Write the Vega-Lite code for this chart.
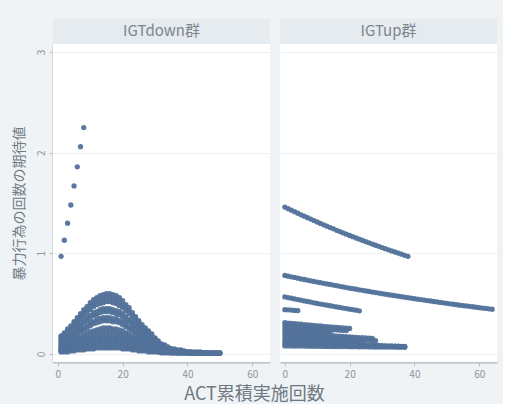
{
"$schema": "https://vega.github.io/schema/vega-lite/v6.json",
"background": "#eff3f6",
"padding": {"left": 12, "top": 18, "right": 6, "bottom": 0},
"title": {"text": "ACT累積実施回数", "orient": "bottom", "anchor": "middle", "fontSize": 18, "fontWeight": "normal", "color": "#6f787f", "font": "Noto Sans CJK JP", "offset": 7},
"datasets": {
"pts": [
{"g":"IGTdown群","x":1,"y":0.97},{"g":"IGTdown群","x":2,"y":1.13},{"g":"IGTdown群","x":3,"y":1.30},{"g":"IGTdown群","x":4,"y":1.48},{"g":"IGTdown群","x":5,"y":1.67},{"g":"IGTdown群","x":6,"y":1.86},{"g":"IGTdown群","x":7,"y":2.06},{"g":"IGTdown群","x":8,"y":2.25},
{"g":"IGTdown群","x":1,"y":0.18},{"g":"IGTdown群","x":2,"y":0.21},{"g":"IGTdown群","x":3,"y":0.25},{"g":"IGTdown群","x":4,"y":0.28},{"g":"IGTdown群","x":5,"y":0.32},{"g":"IGTdown群","x":6,"y":0.36},{"g":"IGTdown群","x":7,"y":0.40},{"g":"IGTdown群","x":8,"y":0.44},{"g":"IGTdown群","x":9,"y":0.47},{"g":"IGTdown群","x":10,"y":0.51},{"g":"IGTdown群","x":11,"y":0.54},{"g":"IGTdown群","x":12,"y":0.56},{"g":"IGTdown群","x":13,"y":0.58},{"g":"IGTdown群","x":14,"y":0.59},{"g":"IGTdown群","x":15,"y":0.60},{"g":"IGTdown群","x":16,"y":0.60},{"g":"IGTdown群","x":17,"y":0.59},{"g":"IGTdown群","x":18,"y":0.58},{"g":"IGTdown群","x":19,"y":0.56},{"g":"IGTdown群","x":20,"y":0.53},{"g":"IGTdown群","x":21,"y":0.49},{"g":"IGTdown群","x":22,"y":0.46},{"g":"IGTdown群","x":23,"y":0.41},{"g":"IGTdown群","x":24,"y":0.37},{"g":"IGTdown群","x":25,"y":0.33},{"g":"IGTdown群","x":26,"y":0.29},{"g":"IGTdown群","x":27,"y":0.26},{"g":"IGTdown群","x":28,"y":0.23},{"g":"IGTdown群","x":29,"y":0.20},
{"g":"IGTdown群","x":1,"y":0.17},{"g":"IGTdown群","x":2,"y":0.20},{"g":"IGTdown群","x":3,"y":0.23},{"g":"IGTdown群","x":4,"y":0.26},{"g":"IGTdown群","x":5,"y":0.30},{"g":"IGTdown群","x":6,"y":0.34},{"g":"IGTdown群","x":7,"y":0.38},{"g":"IGTdown群","x":8,"y":0.41},{"g":"IGTdown群","x":9,"y":0.44},{"g":"IGTdown群","x":10,"y":0.48},{"g":"IGTdown群","x":11,"y":0.50},{"g":"IGTdown群","x":12,"y":0.53},{"g":"IGTdown群","x":13,"y":0.54},{"g":"IGTdown群","x":14,"y":0.55},{"g":"IGTdown群","x":15,"y":0.56},{"g":"IGTdown群","x":16,"y":0.56},{"g":"IGTdown群","x":17,"y":0.55},{"g":"IGTdown群","x":18,"y":0.54},{"g":"IGTdown群","x":19,"y":0.52},{"g":"IGTdown群","x":20,"y":0.49},{"g":"IGTdown群","x":21,"y":0.46},{"g":"IGTdown群","x":22,"y":0.43},{"g":"IGTdown群","x":23,"y":0.39},{"g":"IGTdown群","x":24,"y":0.35},{"g":"IGTdown群","x":25,"y":0.31},{"g":"IGTdown群","x":26,"y":0.27},{"g":"IGTdown群","x":27,"y":0.24},{"g":"IGTdown群","x":28,"y":0.21},{"g":"IGTdown群","x":29,"y":0.18},{"g":"IGTdown群","x":30,"y":0.16},
{"g":"IGTdown群","x":1,"y":0.16},{"g":"IGTdown群","x":2,"y":0.18},{"g":"IGTdown群","x":3,"y":0.21},{"g":"IGTdown群","x":4,"y":0.24},{"g":"IGTdown群","x":5,"y":0.28},{"g":"IGTdown群","x":6,"y":0.31},{"g":"IGTdown群","x":7,"y":0.35},{"g":"IGTdown群","x":8,"y":0.38},{"g":"IGTdown群","x":9,"y":0.41},{"g":"IGTdown群","x":10,"y":0.44},{"g":"IGTdown群","x":11,"y":0.47},{"g":"IGTdown群","x":12,"y":0.49},{"g":"IGTdown群","x":13,"y":0.50},{"g":"IGTdown群","x":14,"y":0.51},{"g":"IGTdown群","x":15,"y":0.52},{"g":"IGTdown群","x":16,"y":0.52},{"g":"IGTdown群","x":17,"y":0.51},{"g":"IGTdown群","x":18,"y":0.50},{"g":"IGTdown群","x":19,"y":0.48},{"g":"IGTdown群","x":20,"y":0.46},{"g":"IGTdown群","x":21,"y":0.43},{"g":"IGTdown群","x":22,"y":0.40},{"g":"IGTdown群","x":23,"y":0.36},{"g":"IGTdown群","x":24,"y":0.32},{"g":"IGTdown群","x":25,"y":0.29},{"g":"IGTdown群","x":26,"y":0.25},{"g":"IGTdown群","x":27,"y":0.22},{"g":"IGTdown群","x":28,"y":0.20},{"g":"IGTdown群","x":29,"y":0.17},{"g":"IGTdown群","x":30,"y":0.15},{"g":"IGTdown群","x":31,"y":0.13},
{"g":"IGTdown群","x":1,"y":0.14},{"g":"IGTdown群","x":2,"y":0.16},{"g":"IGTdown群","x":3,"y":0.18},{"g":"IGTdown群","x":4,"y":0.21},{"g":"IGTdown群","x":5,"y":0.24},{"g":"IGTdown群","x":6,"y":0.27},{"g":"IGTdown群","x":7,"y":0.30},{"g":"IGTdown群","x":8,"y":0.33},{"g":"IGTdown群","x":9,"y":0.36},{"g":"IGTdown群","x":10,"y":0.38},{"g":"IGTdown群","x":11,"y":0.41},{"g":"IGTdown群","x":12,"y":0.42},{"g":"IGTdown群","x":13,"y":0.44},{"g":"IGTdown群","x":14,"y":0.45},{"g":"IGTdown群","x":15,"y":0.45},{"g":"IGTdown群","x":16,"y":0.45},{"g":"IGTdown群","x":17,"y":0.44},{"g":"IGTdown群","x":18,"y":0.43},{"g":"IGTdown群","x":19,"y":0.42},{"g":"IGTdown群","x":20,"y":0.40},{"g":"IGTdown群","x":21,"y":0.37},{"g":"IGTdown群","x":22,"y":0.34},{"g":"IGTdown群","x":23,"y":0.31},{"g":"IGTdown群","x":24,"y":0.28},{"g":"IGTdown群","x":25,"y":0.25},{"g":"IGTdown群","x":26,"y":0.22},{"g":"IGTdown群","x":27,"y":0.19},{"g":"IGTdown群","x":28,"y":0.17},{"g":"IGTdown群","x":29,"y":0.15},{"g":"IGTdown群","x":30,"y":0.13},{"g":"IGTdown群","x":31,"y":0.11},{"g":"IGTdown群","x":32,"y":0.10},{"g":"IGTdown群","x":33,"y":0.09},
{"g":"IGTdown群","x":1,"y":0.13},{"g":"IGTdown群","x":2,"y":0.15},{"g":"IGTdown群","x":3,"y":0.17},{"g":"IGTdown群","x":4,"y":0.20},{"g":"IGTdown群","x":5,"y":0.23},{"g":"IGTdown群","x":6,"y":0.25},{"g":"IGTdown群","x":7,"y":0.28},{"g":"IGTdown群","x":8,"y":0.31},{"g":"IGTdown群","x":9,"y":0.33},{"g":"IGTdown群","x":10,"y":0.36},{"g":"IGTdown群","x":11,"y":0.38},{"g":"IGTdown群","x":12,"y":0.39},{"g":"IGTdown群","x":13,"y":0.41},{"g":"IGTdown群","x":14,"y":0.42},{"g":"IGTdown群","x":15,"y":0.42},{"g":"IGTdown群","x":16,"y":0.42},{"g":"IGTdown群","x":17,"y":0.41},{"g":"IGTdown群","x":18,"y":0.40},{"g":"IGTdown群","x":19,"y":0.39},{"g":"IGTdown群","x":20,"y":0.37},{"g":"IGTdown群","x":21,"y":0.34},{"g":"IGTdown群","x":22,"y":0.32},{"g":"IGTdown群","x":23,"y":0.29},{"g":"IGTdown群","x":24,"y":0.26},{"g":"IGTdown群","x":25,"y":0.23},{"g":"IGTdown群","x":26,"y":0.21},{"g":"IGTdown群","x":27,"y":0.18},{"g":"IGTdown群","x":28,"y":0.16},{"g":"IGTdown群","x":29,"y":0.14},{"g":"IGTdown群","x":30,"y":0.12},{"g":"IGTdown群","x":31,"y":0.11},{"g":"IGTdown群","x":32,"y":0.09},{"g":"IGTdown群","x":33,"y":0.08},{"g":"IGTdown群","x":34,"y":0.07},
{"g":"IGTdown群","x":1,"y":0.11},{"g":"IGTdown群","x":2,"y":0.13},{"g":"IGTdown群","x":3,"y":0.15},{"g":"IGTdown群","x":4,"y":0.17},{"g":"IGTdown群","x":5,"y":0.19},{"g":"IGTdown群","x":6,"y":0.22},{"g":"IGTdown群","x":7,"y":0.24},{"g":"IGTdown群","x":8,"y":0.26},{"g":"IGTdown群","x":9,"y":0.28},{"g":"IGTdown群","x":10,"y":0.31},{"g":"IGTdown群","x":11,"y":0.32},{"g":"IGTdown群","x":12,"y":0.34},{"g":"IGTdown群","x":13,"y":0.35},{"g":"IGTdown群","x":14,"y":0.36},{"g":"IGTdown群","x":15,"y":0.36},{"g":"IGTdown群","x":16,"y":0.36},{"g":"IGTdown群","x":17,"y":0.35},{"g":"IGTdown群","x":18,"y":0.35},{"g":"IGTdown群","x":19,"y":0.33},{"g":"IGTdown群","x":20,"y":0.32},{"g":"IGTdown群","x":21,"y":0.30},{"g":"IGTdown群","x":22,"y":0.27},{"g":"IGTdown群","x":23,"y":0.25},{"g":"IGTdown群","x":24,"y":0.22},{"g":"IGTdown群","x":25,"y":0.20},{"g":"IGTdown群","x":26,"y":0.18},{"g":"IGTdown群","x":27,"y":0.15},{"g":"IGTdown群","x":28,"y":0.14},{"g":"IGTdown群","x":29,"y":0.12},{"g":"IGTdown群","x":30,"y":0.10},{"g":"IGTdown群","x":31,"y":0.09},{"g":"IGTdown群","x":32,"y":0.08},{"g":"IGTdown群","x":33,"y":0.07},{"g":"IGTdown群","x":34,"y":0.06},{"g":"IGTdown群","x":35,"y":0.05},{"g":"IGTdown群","x":36,"y":0.05},
{"g":"IGTdown群","x":1,"y":0.10},{"g":"IGTdown群","x":2,"y":0.12},{"g":"IGTdown群","x":3,"y":0.14},{"g":"IGTdown群","x":4,"y":0.16},{"g":"IGTdown群","x":5,"y":0.18},{"g":"IGTdown群","x":6,"y":0.20},{"g":"IGTdown群","x":7,"y":0.22},{"g":"IGTdown群","x":8,"y":0.24},{"g":"IGTdown群","x":9,"y":0.26},{"g":"IGTdown群","x":10,"y":0.28},{"g":"IGTdown群","x":11,"y":0.30},{"g":"IGTdown群","x":12,"y":0.31},{"g":"IGTdown群","x":13,"y":0.32},{"g":"IGTdown群","x":14,"y":0.33},{"g":"IGTdown群","x":15,"y":0.33},{"g":"IGTdown群","x":16,"y":0.33},{"g":"IGTdown群","x":17,"y":0.32},{"g":"IGTdown群","x":18,"y":0.32},{"g":"IGTdown群","x":19,"y":0.31},{"g":"IGTdown群","x":20,"y":0.29},{"g":"IGTdown群","x":21,"y":0.27},{"g":"IGTdown群","x":22,"y":0.25},{"g":"IGTdown群","x":23,"y":0.23},{"g":"IGTdown群","x":24,"y":0.20},{"g":"IGTdown群","x":25,"y":0.18},{"g":"IGTdown群","x":26,"y":0.16},{"g":"IGTdown群","x":27,"y":0.14},{"g":"IGTdown群","x":28,"y":0.13},{"g":"IGTdown群","x":29,"y":0.11},{"g":"IGTdown群","x":30,"y":0.10},{"g":"IGTdown群","x":31,"y":0.08},{"g":"IGTdown群","x":32,"y":0.07},{"g":"IGTdown群","x":33,"y":0.06},{"g":"IGTdown群","x":34,"y":0.06},{"g":"IGTdown群","x":35,"y":0.05},{"g":"IGTdown群","x":36,"y":0.04},{"g":"IGTdown群","x":37,"y":0.04},{"g":"IGTdown群","x":38,"y":0.04},
{"g":"IGTdown群","x":1,"y":0.08},{"g":"IGTdown群","x":2,"y":0.09},{"g":"IGTdown群","x":3,"y":0.11},{"g":"IGTdown群","x":4,"y":0.12},{"g":"IGTdown群","x":5,"y":0.14},{"g":"IGTdown群","x":6,"y":0.16},{"g":"IGTdown群","x":7,"y":0.17},{"g":"IGTdown群","x":8,"y":0.19},{"g":"IGTdown群","x":9,"y":0.21},{"g":"IGTdown群","x":10,"y":0.22},{"g":"IGTdown群","x":11,"y":0.23},{"g":"IGTdown群","x":12,"y":0.24},{"g":"IGTdown群","x":13,"y":0.25},{"g":"IGTdown群","x":14,"y":0.26},{"g":"IGTdown群","x":15,"y":0.26},{"g":"IGTdown群","x":16,"y":0.26},{"g":"IGTdown群","x":17,"y":0.25},{"g":"IGTdown群","x":18,"y":0.25},{"g":"IGTdown群","x":19,"y":0.24},{"g":"IGTdown群","x":20,"y":0.23},{"g":"IGTdown群","x":21,"y":0.21},{"g":"IGTdown群","x":22,"y":0.20},{"g":"IGTdown群","x":23,"y":0.18},{"g":"IGTdown群","x":24,"y":0.16},{"g":"IGTdown群","x":25,"y":0.14},{"g":"IGTdown群","x":26,"y":0.13},{"g":"IGTdown群","x":27,"y":0.11},{"g":"IGTdown群","x":28,"y":0.10},{"g":"IGTdown群","x":29,"y":0.09},{"g":"IGTdown群","x":30,"y":0.08},{"g":"IGTdown群","x":31,"y":0.07},{"g":"IGTdown群","x":32,"y":0.06},{"g":"IGTdown群","x":33,"y":0.05},{"g":"IGTdown群","x":34,"y":0.04},{"g":"IGTdown群","x":35,"y":0.04},{"g":"IGTdown群","x":36,"y":0.03},{"g":"IGTdown群","x":37,"y":0.03},{"g":"IGTdown群","x":38,"y":0.03},{"g":"IGTdown群","x":39,"y":0.03},{"g":"IGTdown群","x":40,"y":0.02},
{"g":"IGTdown群","x":1,"y":0.07},{"g":"IGTdown群","x":2,"y":0.08},{"g":"IGTdown群","x":3,"y":0.09},{"g":"IGTdown群","x":4,"y":0.10},{"g":"IGTdown群","x":5,"y":0.12},{"g":"IGTdown群","x":6,"y":0.13},{"g":"IGTdown群","x":7,"y":0.15},{"g":"IGTdown群","x":8,"y":0.16},{"g":"IGTdown群","x":9,"y":0.17},{"g":"IGTdown群","x":10,"y":0.19},{"g":"IGTdown群","x":11,"y":0.20},{"g":"IGTdown群","x":12,"y":0.21},{"g":"IGTdown群","x":13,"y":0.21},{"g":"IGTdown群","x":14,"y":0.22},{"g":"IGTdown群","x":15,"y":0.22},{"g":"IGTdown群","x":16,"y":0.22},{"g":"IGTdown群","x":17,"y":0.22},{"g":"IGTdown群","x":18,"y":0.21},{"g":"IGTdown群","x":19,"y":0.20},{"g":"IGTdown群","x":20,"y":0.19},{"g":"IGTdown群","x":21,"y":0.18},{"g":"IGTdown群","x":22,"y":0.17},{"g":"IGTdown群","x":23,"y":0.15},{"g":"IGTdown群","x":24,"y":0.14},{"g":"IGTdown群","x":25,"y":0.12},{"g":"IGTdown群","x":26,"y":0.11},{"g":"IGTdown群","x":27,"y":0.09},{"g":"IGTdown群","x":28,"y":0.08},{"g":"IGTdown群","x":29,"y":0.07},{"g":"IGTdown群","x":30,"y":0.06},{"g":"IGTdown群","x":31,"y":0.06},{"g":"IGTdown群","x":32,"y":0.05},{"g":"IGTdown群","x":33,"y":0.04},{"g":"IGTdown群","x":34,"y":0.04},{"g":"IGTdown群","x":35,"y":0.03},{"g":"IGTdown群","x":36,"y":0.03},{"g":"IGTdown群","x":37,"y":0.03},{"g":"IGTdown群","x":38,"y":0.02},{"g":"IGTdown群","x":39,"y":0.02},{"g":"IGTdown群","x":40,"y":0.02},{"g":"IGTdown群","x":41,"y":0.02},{"g":"IGTdown群","x":42,"y":0.02},{"g":"IGTdown群","x":43,"y":0.02},{"g":"IGTdown群","x":44,"y":0.02},
{"g":"IGTdown群","x":1,"y":0.05},{"g":"IGTdown群","x":2,"y":0.06},{"g":"IGTdown群","x":3,"y":0.07},{"g":"IGTdown群","x":4,"y":0.08},{"g":"IGTdown群","x":5,"y":0.10},{"g":"IGTdown群","x":6,"y":0.11},{"g":"IGTdown群","x":7,"y":0.12},{"g":"IGTdown群","x":8,"y":0.13},{"g":"IGTdown群","x":9,"y":0.14},{"g":"IGTdown群","x":10,"y":0.15},{"g":"IGTdown群","x":11,"y":0.16},{"g":"IGTdown群","x":12,"y":0.17},{"g":"IGTdown群","x":13,"y":0.17},{"g":"IGTdown群","x":14,"y":0.18},{"g":"IGTdown群","x":15,"y":0.18},{"g":"IGTdown群","x":16,"y":0.18},{"g":"IGTdown群","x":17,"y":0.18},{"g":"IGTdown群","x":18,"y":0.17},{"g":"IGTdown群","x":19,"y":0.17},{"g":"IGTdown群","x":20,"y":0.16},{"g":"IGTdown群","x":21,"y":0.15},{"g":"IGTdown群","x":22,"y":0.14},{"g":"IGTdown群","x":23,"y":0.12},{"g":"IGTdown群","x":24,"y":0.11},{"g":"IGTdown群","x":25,"y":0.10},{"g":"IGTdown群","x":26,"y":0.09},{"g":"IGTdown群","x":27,"y":0.08},{"g":"IGTdown群","x":28,"y":0.07},{"g":"IGTdown群","x":29,"y":0.06},{"g":"IGTdown群","x":30,"y":0.05},{"g":"IGTdown群","x":31,"y":0.05},{"g":"IGTdown群","x":32,"y":0.04},{"g":"IGTdown群","x":33,"y":0.03},{"g":"IGTdown群","x":34,"y":0.03},{"g":"IGTdown群","x":35,"y":0.03},{"g":"IGTdown群","x":36,"y":0.02},{"g":"IGTdown群","x":37,"y":0.02},{"g":"IGTdown群","x":38,"y":0.02},{"g":"IGTdown群","x":39,"y":0.02},{"g":"IGTdown群","x":40,"y":0.02},{"g":"IGTdown群","x":41,"y":0.02},{"g":"IGTdown群","x":42,"y":0.01},{"g":"IGTdown群","x":43,"y":0.01},{"g":"IGTdown群","x":44,"y":0.01},{"g":"IGTdown群","x":45,"y":0.01},{"g":"IGTdown群","x":46,"y":0.01},{"g":"IGTdown群","x":47,"y":0.01},
{"g":"IGTdown群","x":1,"y":0.05},{"g":"IGTdown群","x":2,"y":0.05},{"g":"IGTdown群","x":3,"y":0.06},{"g":"IGTdown群","x":4,"y":0.07},{"g":"IGTdown群","x":5,"y":0.08},{"g":"IGTdown群","x":6,"y":0.09},{"g":"IGTdown群","x":7,"y":0.10},{"g":"IGTdown群","x":8,"y":0.11},{"g":"IGTdown群","x":9,"y":0.12},{"g":"IGTdown群","x":10,"y":0.13},{"g":"IGTdown群","x":11,"y":0.14},{"g":"IGTdown群","x":12,"y":0.14},{"g":"IGTdown群","x":13,"y":0.15},{"g":"IGTdown群","x":14,"y":0.15},{"g":"IGTdown群","x":15,"y":0.15},{"g":"IGTdown群","x":16,"y":0.15},{"g":"IGTdown群","x":17,"y":0.15},{"g":"IGTdown群","x":18,"y":0.14},{"g":"IGTdown群","x":19,"y":0.14},{"g":"IGTdown群","x":20,"y":0.13},{"g":"IGTdown群","x":21,"y":0.12},{"g":"IGTdown群","x":22,"y":0.11},{"g":"IGTdown群","x":23,"y":0.10},{"g":"IGTdown群","x":24,"y":0.09},{"g":"IGTdown群","x":25,"y":0.08},{"g":"IGTdown群","x":26,"y":0.07},{"g":"IGTdown群","x":27,"y":0.06},{"g":"IGTdown群","x":28,"y":0.06},{"g":"IGTdown群","x":29,"y":0.05},{"g":"IGTdown群","x":30,"y":0.04},{"g":"IGTdown群","x":31,"y":0.04},{"g":"IGTdown群","x":32,"y":0.03},{"g":"IGTdown群","x":33,"y":0.03},{"g":"IGTdown群","x":34,"y":0.03},{"g":"IGTdown群","x":35,"y":0.02},{"g":"IGTdown群","x":36,"y":0.02},{"g":"IGTdown群","x":37,"y":0.02},{"g":"IGTdown群","x":38,"y":0.02},{"g":"IGTdown群","x":39,"y":0.02},{"g":"IGTdown群","x":40,"y":0.01},{"g":"IGTdown群","x":41,"y":0.01},{"g":"IGTdown群","x":42,"y":0.01},{"g":"IGTdown群","x":43,"y":0.01},{"g":"IGTdown群","x":44,"y":0.01},{"g":"IGTdown群","x":45,"y":0.01},{"g":"IGTdown群","x":46,"y":0.01},{"g":"IGTdown群","x":47,"y":0.01},{"g":"IGTdown群","x":48,"y":0.01},{"g":"IGTdown群","x":49,"y":0.01},{"g":"IGTdown群","x":50,"y":0.01},
{"g":"IGTdown群","x":1,"y":0.04},{"g":"IGTdown群","x":2,"y":0.04},{"g":"IGTdown群","x":3,"y":0.05},{"g":"IGTdown群","x":4,"y":0.06},{"g":"IGTdown群","x":5,"y":0.06},{"g":"IGTdown群","x":6,"y":0.07},{"g":"IGTdown群","x":7,"y":0.08},{"g":"IGTdown群","x":8,"y":0.09},{"g":"IGTdown群","x":9,"y":0.09},{"g":"IGTdown群","x":10,"y":0.10},{"g":"IGTdown群","x":11,"y":0.11},{"g":"IGTdown群","x":12,"y":0.11},{"g":"IGTdown群","x":13,"y":0.12},{"g":"IGTdown群","x":14,"y":0.12},{"g":"IGTdown群","x":15,"y":0.12},{"g":"IGTdown群","x":16,"y":0.12},{"g":"IGTdown群","x":17,"y":0.12},{"g":"IGTdown群","x":18,"y":0.12},{"g":"IGTdown群","x":19,"y":0.11},{"g":"IGTdown群","x":20,"y":0.11},{"g":"IGTdown群","x":21,"y":0.10},{"g":"IGTdown群","x":22,"y":0.09},{"g":"IGTdown群","x":23,"y":0.08},{"g":"IGTdown群","x":24,"y":0.07},{"g":"IGTdown群","x":25,"y":0.07},{"g":"IGTdown群","x":26,"y":0.06},{"g":"IGTdown群","x":27,"y":0.05},{"g":"IGTdown群","x":28,"y":0.05},{"g":"IGTdown群","x":29,"y":0.04},{"g":"IGTdown群","x":30,"y":0.03},{"g":"IGTdown群","x":31,"y":0.03},{"g":"IGTdown群","x":32,"y":0.03},{"g":"IGTdown群","x":33,"y":0.02},{"g":"IGTdown群","x":34,"y":0.02},{"g":"IGTdown群","x":35,"y":0.02},{"g":"IGTdown群","x":36,"y":0.02},{"g":"IGTdown群","x":37,"y":0.01},{"g":"IGTdown群","x":38,"y":0.01},{"g":"IGTdown群","x":39,"y":0.01},{"g":"IGTdown群","x":40,"y":0.01},{"g":"IGTdown群","x":41,"y":0.01},{"g":"IGTdown群","x":42,"y":0.01},{"g":"IGTdown群","x":43,"y":0.01},{"g":"IGTdown群","x":44,"y":0.01},{"g":"IGTdown群","x":45,"y":0.01},{"g":"IGTdown群","x":46,"y":0.01},{"g":"IGTdown群","x":47,"y":0.01},{"g":"IGTdown群","x":48,"y":0.01},{"g":"IGTdown群","x":49,"y":0.01},{"g":"IGTdown群","x":50,"y":0.01},
{"g":"IGTdown群","x":1,"y":0.03},{"g":"IGTdown群","x":2,"y":0.03},{"g":"IGTdown群","x":3,"y":0.04},{"g":"IGTdown群","x":4,"y":0.04},{"g":"IGTdown群","x":5,"y":0.05},{"g":"IGTdown群","x":6,"y":0.05},{"g":"IGTdown群","x":7,"y":0.06},{"g":"IGTdown群","x":8,"y":0.07},{"g":"IGTdown群","x":9,"y":0.07},{"g":"IGTdown群","x":10,"y":0.08},{"g":"IGTdown群","x":11,"y":0.08},{"g":"IGTdown群","x":12,"y":0.08},{"g":"IGTdown群","x":13,"y":0.09},{"g":"IGTdown群","x":14,"y":0.09},{"g":"IGTdown群","x":15,"y":0.09},{"g":"IGTdown群","x":16,"y":0.09},{"g":"IGTdown群","x":17,"y":0.09},{"g":"IGTdown群","x":18,"y":0.09},{"g":"IGTdown群","x":19,"y":0.08},{"g":"IGTdown群","x":20,"y":0.08},{"g":"IGTdown群","x":21,"y":0.07},{"g":"IGTdown群","x":22,"y":0.07},{"g":"IGTdown群","x":23,"y":0.06},{"g":"IGTdown群","x":24,"y":0.06},{"g":"IGTdown群","x":25,"y":0.05},{"g":"IGTdown群","x":26,"y":0.04},{"g":"IGTdown群","x":27,"y":0.04},{"g":"IGTdown群","x":28,"y":0.03},{"g":"IGTdown群","x":29,"y":0.03},{"g":"IGTdown群","x":30,"y":0.03},{"g":"IGTdown群","x":31,"y":0.02},{"g":"IGTdown群","x":32,"y":0.02},{"g":"IGTdown群","x":33,"y":0.02},{"g":"IGTdown群","x":34,"y":0.02},{"g":"IGTdown群","x":35,"y":0.01},{"g":"IGTdown群","x":36,"y":0.01},{"g":"IGTdown群","x":37,"y":0.01},{"g":"IGTdown群","x":38,"y":0.01},{"g":"IGTdown群","x":39,"y":0.01},{"g":"IGTdown群","x":40,"y":0.01},{"g":"IGTdown群","x":41,"y":0.01},{"g":"IGTdown群","x":42,"y":0.01},{"g":"IGTdown群","x":43,"y":0.01},{"g":"IGTdown群","x":44,"y":0.01},{"g":"IGTdown群","x":45,"y":0.01},{"g":"IGTdown群","x":46,"y":0.01},{"g":"IGTdown群","x":47,"y":0.01},{"g":"IGTdown群","x":48,"y":0.01},{"g":"IGTdown群","x":49,"y":0.01},{"g":"IGTdown群","x":50,"y":0.01},
{"g":"IGTdown群","x":1,"y":0.02},{"g":"IGTdown群","x":2,"y":0.02},{"g":"IGTdown群","x":3,"y":0.02},{"g":"IGTdown群","x":4,"y":0.03},{"g":"IGTdown群","x":5,"y":0.03},{"g":"IGTdown群","x":6,"y":0.04},{"g":"IGTdown群","x":7,"y":0.04},{"g":"IGTdown群","x":8,"y":0.04},{"g":"IGTdown群","x":9,"y":0.05},{"g":"IGTdown群","x":10,"y":0.05},{"g":"IGTdown群","x":11,"y":0.05},{"g":"IGTdown群","x":12,"y":0.06},{"g":"IGTdown群","x":13,"y":0.06},{"g":"IGTdown群","x":14,"y":0.06},{"g":"IGTdown群","x":15,"y":0.06},{"g":"IGTdown群","x":16,"y":0.06},{"g":"IGTdown群","x":17,"y":0.06},{"g":"IGTdown群","x":18,"y":0.06},{"g":"IGTdown群","x":19,"y":0.06},{"g":"IGTdown群","x":20,"y":0.05},{"g":"IGTdown群","x":21,"y":0.05},{"g":"IGTdown群","x":22,"y":0.05},{"g":"IGTdown群","x":23,"y":0.04},{"g":"IGTdown群","x":24,"y":0.04},{"g":"IGTdown群","x":25,"y":0.03},{"g":"IGTdown群","x":26,"y":0.03},{"g":"IGTdown群","x":27,"y":0.03},{"g":"IGTdown群","x":28,"y":0.02},{"g":"IGTdown群","x":29,"y":0.02},{"g":"IGTdown群","x":30,"y":0.02},{"g":"IGTdown群","x":31,"y":0.02},{"g":"IGTdown群","x":32,"y":0.01},{"g":"IGTdown群","x":33,"y":0.01},{"g":"IGTdown群","x":34,"y":0.01},{"g":"IGTdown群","x":35,"y":0.01},{"g":"IGTdown群","x":36,"y":0.01},{"g":"IGTdown群","x":37,"y":0.01},{"g":"IGTdown群","x":38,"y":0.01},{"g":"IGTdown群","x":39,"y":0.01},{"g":"IGTdown群","x":40,"y":0.01},{"g":"IGTdown群","x":41,"y":0.005},{"g":"IGTdown群","x":42,"y":0.005},{"g":"IGTdown群","x":43,"y":0.005},{"g":"IGTdown群","x":44,"y":0.005},{"g":"IGTdown群","x":45,"y":0.005},{"g":"IGTdown群","x":46,"y":0.005},{"g":"IGTdown群","x":47,"y":0.005},{"g":"IGTdown群","x":48,"y":0.005},{"g":"IGTdown群","x":49,"y":0.005},{"g":"IGTdown群","x":50,"y":0.005},
{"g":"IGTup群","x":0,"y":1.460},{"g":"IGTup群","x":1,"y":1.444},{"g":"IGTup群","x":2,"y":1.429},{"g":"IGTup群","x":3,"y":1.414},{"g":"IGTup群","x":4,"y":1.398},{"g":"IGTup群","x":5,"y":1.383},{"g":"IGTup群","x":6,"y":1.369},{"g":"IGTup群","x":7,"y":1.354},{"g":"IGTup群","x":8,"y":1.340},{"g":"IGTup群","x":9,"y":1.325},{"g":"IGTup群","x":10,"y":1.311},{"g":"IGTup群","x":11,"y":1.297},{"g":"IGTup群","x":12,"y":1.283},{"g":"IGTup群","x":13,"y":1.270},{"g":"IGTup群","x":14,"y":1.256},{"g":"IGTup群","x":15,"y":1.243},{"g":"IGTup群","x":16,"y":1.229},{"g":"IGTup群","x":17,"y":1.216},{"g":"IGTup群","x":18,"y":1.203},{"g":"IGTup群","x":19,"y":1.190},{"g":"IGTup群","x":20,"y":1.177},{"g":"IGTup群","x":21,"y":1.165},{"g":"IGTup群","x":22,"y":1.152},{"g":"IGTup群","x":23,"y":1.140},{"g":"IGTup群","x":24,"y":1.128},{"g":"IGTup群","x":25,"y":1.116},{"g":"IGTup群","x":26,"y":1.104},{"g":"IGTup群","x":27,"y":1.092},{"g":"IGTup群","x":28,"y":1.080},{"g":"IGTup群","x":29,"y":1.069},{"g":"IGTup群","x":30,"y":1.057},{"g":"IGTup群","x":31,"y":1.046},{"g":"IGTup群","x":32,"y":1.035},{"g":"IGTup群","x":33,"y":1.024},{"g":"IGTup群","x":34,"y":1.013},{"g":"IGTup群","x":35,"y":1.002},{"g":"IGTup群","x":36,"y":0.991},{"g":"IGTup群","x":37,"y":0.980},{"g":"IGTup群","x":38,"y":0.970},
{"g":"IGTup群","x":0,"y":0.780},{"g":"IGTup群","x":1,"y":0.773},{"g":"IGTup群","x":2,"y":0.766},{"g":"IGTup群","x":3,"y":0.760},{"g":"IGTup群","x":4,"y":0.753},{"g":"IGTup群","x":5,"y":0.746},{"g":"IGTup群","x":6,"y":0.740},{"g":"IGTup群","x":7,"y":0.733},{"g":"IGTup群","x":8,"y":0.727},{"g":"IGTup群","x":9,"y":0.721},{"g":"IGTup群","x":10,"y":0.714},{"g":"IGTup群","x":11,"y":0.708},{"g":"IGTup群","x":12,"y":0.702},{"g":"IGTup群","x":13,"y":0.696},{"g":"IGTup群","x":14,"y":0.690},{"g":"IGTup群","x":15,"y":0.684},{"g":"IGTup群","x":16,"y":0.678},{"g":"IGTup群","x":17,"y":0.672},{"g":"IGTup群","x":18,"y":0.666},{"g":"IGTup群","x":19,"y":0.660},{"g":"IGTup群","x":20,"y":0.654},{"g":"IGTup群","x":21,"y":0.649},{"g":"IGTup群","x":22,"y":0.643},{"g":"IGTup群","x":23,"y":0.637},{"g":"IGTup群","x":24,"y":0.632},{"g":"IGTup群","x":25,"y":0.626},{"g":"IGTup群","x":26,"y":0.621},{"g":"IGTup群","x":27,"y":0.615},{"g":"IGTup群","x":28,"y":0.610},{"g":"IGTup群","x":29,"y":0.605},{"g":"IGTup群","x":30,"y":0.599},{"g":"IGTup群","x":31,"y":0.594},{"g":"IGTup群","x":32,"y":0.589},{"g":"IGTup群","x":33,"y":0.584},{"g":"IGTup群","x":34,"y":0.579},{"g":"IGTup群","x":35,"y":0.574},{"g":"IGTup群","x":36,"y":0.569},{"g":"IGTup群","x":37,"y":0.564},{"g":"IGTup群","x":38,"y":0.559},{"g":"IGTup群","x":39,"y":0.554},{"g":"IGTup群","x":40,"y":0.549},{"g":"IGTup群","x":41,"y":0.544},{"g":"IGTup群","x":42,"y":0.540},{"g":"IGTup群","x":43,"y":0.535},{"g":"IGTup群","x":44,"y":0.530},{"g":"IGTup群","x":45,"y":0.526},{"g":"IGTup群","x":46,"y":0.521},{"g":"IGTup群","x":47,"y":0.517},{"g":"IGTup群","x":48,"y":0.512},{"g":"IGTup群","x":49,"y":0.508},{"g":"IGTup群","x":50,"y":0.503},{"g":"IGTup群","x":51,"y":0.498},{"g":"IGTup群","x":52,"y":0.494},{"g":"IGTup群","x":53,"y":0.490},{"g":"IGTup群","x":54,"y":0.485},{"g":"IGTup群","x":55,"y":0.481},{"g":"IGTup群","x":56,"y":0.477},{"g":"IGTup群","x":57,"y":0.473},{"g":"IGTup群","x":58,"y":0.469},{"g":"IGTup群","x":59,"y":0.464},{"g":"IGTup群","x":60,"y":0.460},{"g":"IGTup群","x":61,"y":0.456},{"g":"IGTup群","x":62,"y":0.452},{"g":"IGTup群","x":63,"y":0.448},{"g":"IGTup群","x":64,"y":0.444},
{"g":"IGTup群","x":0,"y":0.567},{"g":"IGTup群","x":1,"y":0.560},{"g":"IGTup群","x":2,"y":0.554},{"g":"IGTup群","x":3,"y":0.547},{"g":"IGTup群","x":4,"y":0.540},{"g":"IGTup群","x":5,"y":0.534},{"g":"IGTup群","x":6,"y":0.527},{"g":"IGTup群","x":7,"y":0.521},{"g":"IGTup群","x":8,"y":0.515},{"g":"IGTup群","x":9,"y":0.508},{"g":"IGTup群","x":10,"y":0.502},{"g":"IGTup群","x":11,"y":0.496},{"g":"IGTup群","x":12,"y":0.491},{"g":"IGTup群","x":13,"y":0.485},{"g":"IGTup群","x":14,"y":0.479},{"g":"IGTup群","x":15,"y":0.473},{"g":"IGTup群","x":16,"y":0.467},{"g":"IGTup群","x":17,"y":0.462},{"g":"IGTup群","x":18,"y":0.456},{"g":"IGTup群","x":19,"y":0.451},{"g":"IGTup群","x":20,"y":0.445},{"g":"IGTup群","x":21,"y":0.440},{"g":"IGTup群","x":22,"y":0.435},{"g":"IGTup群","x":23,"y":0.429},
{"g":"IGTup群","x":0,"y":0.440},{"g":"IGTup群","x":1,"y":0.438},{"g":"IGTup群","x":2,"y":0.436},{"g":"IGTup群","x":3,"y":0.433},{"g":"IGTup群","x":4,"y":0.431},
{"g":"IGTup群","x":0,"y":0.310},{"g":"IGTup群","x":1,"y":0.307},{"g":"IGTup群","x":2,"y":0.304},{"g":"IGTup群","x":3,"y":0.301},{"g":"IGTup群","x":4,"y":0.298},{"g":"IGTup群","x":5,"y":0.295},{"g":"IGTup群","x":6,"y":0.292},{"g":"IGTup群","x":7,"y":0.289},{"g":"IGTup群","x":8,"y":0.286},{"g":"IGTup群","x":9,"y":0.283},{"g":"IGTup群","x":10,"y":0.280},{"g":"IGTup群","x":11,"y":0.278},{"g":"IGTup群","x":12,"y":0.275},{"g":"IGTup群","x":13,"y":0.272},{"g":"IGTup群","x":14,"y":0.269},{"g":"IGTup群","x":15,"y":0.267},{"g":"IGTup群","x":16,"y":0.264},{"g":"IGTup群","x":17,"y":0.261},{"g":"IGTup群","x":18,"y":0.259},{"g":"IGTup群","x":19,"y":0.256},{"g":"IGTup群","x":20,"y":0.254},
{"g":"IGTup群","x":0,"y":0.280},{"g":"IGTup群","x":1,"y":0.277},{"g":"IGTup群","x":2,"y":0.274},{"g":"IGTup群","x":3,"y":0.272},{"g":"IGTup群","x":4,"y":0.269},{"g":"IGTup群","x":5,"y":0.266},{"g":"IGTup群","x":6,"y":0.264},{"g":"IGTup群","x":7,"y":0.261},{"g":"IGTup群","x":8,"y":0.258},{"g":"IGTup群","x":9,"y":0.256},{"g":"IGTup群","x":10,"y":0.253},{"g":"IGTup群","x":11,"y":0.251},{"g":"IGTup群","x":12,"y":0.248},{"g":"IGTup群","x":13,"y":0.246},{"g":"IGTup群","x":14,"y":0.243},{"g":"IGTup群","x":15,"y":0.241},{"g":"IGTup群","x":16,"y":0.239},{"g":"IGTup群","x":17,"y":0.236},{"g":"IGTup群","x":18,"y":0.234},{"g":"IGTup群","x":19,"y":0.232},
{"g":"IGTup群","x":0,"y":0.250},{"g":"IGTup群","x":1,"y":0.248},{"g":"IGTup群","x":2,"y":0.245},{"g":"IGTup群","x":3,"y":0.243},{"g":"IGTup群","x":4,"y":0.240},{"g":"IGTup群","x":5,"y":0.238},{"g":"IGTup群","x":6,"y":0.235},{"g":"IGTup群","x":7,"y":0.233},{"g":"IGTup群","x":8,"y":0.231},{"g":"IGTup群","x":9,"y":0.228},{"g":"IGTup群","x":10,"y":0.226},{"g":"IGTup群","x":11,"y":0.224},{"g":"IGTup群","x":12,"y":0.222},{"g":"IGTup群","x":13,"y":0.219},{"g":"IGTup群","x":14,"y":0.217},
{"g":"IGTup群","x":0,"y":0.220},{"g":"IGTup群","x":1,"y":0.217},{"g":"IGTup群","x":2,"y":0.214},{"g":"IGTup群","x":3,"y":0.212},{"g":"IGTup群","x":4,"y":0.209},{"g":"IGTup群","x":5,"y":0.206},{"g":"IGTup群","x":6,"y":0.203},{"g":"IGTup群","x":7,"y":0.201},{"g":"IGTup群","x":8,"y":0.198},{"g":"IGTup群","x":9,"y":0.196},{"g":"IGTup群","x":10,"y":0.193},{"g":"IGTup群","x":11,"y":0.191},{"g":"IGTup群","x":12,"y":0.188},{"g":"IGTup群","x":13,"y":0.185},{"g":"IGTup群","x":14,"y":0.183},{"g":"IGTup群","x":15,"y":0.181},{"g":"IGTup群","x":16,"y":0.178},{"g":"IGTup群","x":17,"y":0.176},{"g":"IGTup群","x":18,"y":0.174},{"g":"IGTup群","x":19,"y":0.172},{"g":"IGTup群","x":20,"y":0.169},{"g":"IGTup群","x":21,"y":0.167},{"g":"IGTup群","x":22,"y":0.165},{"g":"IGTup群","x":23,"y":0.163},{"g":"IGTup群","x":24,"y":0.161},{"g":"IGTup群","x":25,"y":0.159},{"g":"IGTup群","x":26,"y":0.156},{"g":"IGTup群","x":27,"y":0.154},
{"g":"IGTup群","x":0,"y":0.190},{"g":"IGTup群","x":1,"y":0.188},{"g":"IGTup群","x":2,"y":0.185},{"g":"IGTup群","x":3,"y":0.183},{"g":"IGTup群","x":4,"y":0.180},{"g":"IGTup群","x":5,"y":0.178},{"g":"IGTup群","x":6,"y":0.176},{"g":"IGTup群","x":7,"y":0.173},{"g":"IGTup群","x":8,"y":0.171},{"g":"IGTup群","x":9,"y":0.169},{"g":"IGTup群","x":10,"y":0.167},{"g":"IGTup群","x":11,"y":0.165},{"g":"IGTup群","x":12,"y":0.162},{"g":"IGTup群","x":13,"y":0.160},{"g":"IGTup群","x":14,"y":0.158},{"g":"IGTup群","x":15,"y":0.156},{"g":"IGTup群","x":16,"y":0.154},{"g":"IGTup群","x":17,"y":0.152},{"g":"IGTup群","x":18,"y":0.150},{"g":"IGTup群","x":19,"y":0.148},{"g":"IGTup群","x":20,"y":0.146},{"g":"IGTup群","x":21,"y":0.144},{"g":"IGTup群","x":22,"y":0.143},{"g":"IGTup群","x":23,"y":0.141},{"g":"IGTup群","x":24,"y":0.139},{"g":"IGTup群","x":25,"y":0.137},{"g":"IGTup群","x":26,"y":0.135},{"g":"IGTup群","x":27,"y":0.133},{"g":"IGTup群","x":28,"y":0.132},
{"g":"IGTup群","x":0,"y":0.160},{"g":"IGTup群","x":1,"y":0.158},{"g":"IGTup群","x":2,"y":0.156},{"g":"IGTup群","x":3,"y":0.154},{"g":"IGTup群","x":4,"y":0.152},{"g":"IGTup群","x":5,"y":0.150},{"g":"IGTup群","x":6,"y":0.148},{"g":"IGTup群","x":7,"y":0.146},{"g":"IGTup群","x":8,"y":0.144},{"g":"IGTup群","x":9,"y":0.142},{"g":"IGTup群","x":10,"y":0.140},{"g":"IGTup群","x":11,"y":0.139},{"g":"IGTup群","x":12,"y":0.137},{"g":"IGTup群","x":13,"y":0.135},{"g":"IGTup群","x":14,"y":0.133},{"g":"IGTup群","x":15,"y":0.132},{"g":"IGTup群","x":16,"y":0.130},{"g":"IGTup群","x":17,"y":0.128},{"g":"IGTup群","x":18,"y":0.126},{"g":"IGTup群","x":19,"y":0.125},{"g":"IGTup群","x":20,"y":0.123},{"g":"IGTup群","x":21,"y":0.122},{"g":"IGTup群","x":22,"y":0.120},{"g":"IGTup群","x":23,"y":0.118},{"g":"IGTup群","x":24,"y":0.117},
{"g":"IGTup群","x":0,"y":0.130},{"g":"IGTup群","x":1,"y":0.128},{"g":"IGTup群","x":2,"y":0.126},{"g":"IGTup群","x":3,"y":0.124},{"g":"IGTup群","x":4,"y":0.122},{"g":"IGTup群","x":5,"y":0.121},{"g":"IGTup群","x":6,"y":0.119},{"g":"IGTup群","x":7,"y":0.117},{"g":"IGTup群","x":8,"y":0.115},{"g":"IGTup群","x":9,"y":0.113},{"g":"IGTup群","x":10,"y":0.112},{"g":"IGTup群","x":11,"y":0.110},{"g":"IGTup群","x":12,"y":0.108},{"g":"IGTup群","x":13,"y":0.107},{"g":"IGTup群","x":14,"y":0.105},{"g":"IGTup群","x":15,"y":0.104},{"g":"IGTup群","x":16,"y":0.102},{"g":"IGTup群","x":17,"y":0.100},{"g":"IGTup群","x":18,"y":0.099},{"g":"IGTup群","x":19,"y":0.098},{"g":"IGTup群","x":20,"y":0.096},{"g":"IGTup群","x":21,"y":0.095},{"g":"IGTup群","x":22,"y":0.093},{"g":"IGTup群","x":23,"y":0.092},{"g":"IGTup群","x":24,"y":0.090},{"g":"IGTup群","x":25,"y":0.089},{"g":"IGTup群","x":26,"y":0.088},{"g":"IGTup群","x":27,"y":0.086},{"g":"IGTup群","x":28,"y":0.085},{"g":"IGTup群","x":29,"y":0.084},{"g":"IGTup群","x":30,"y":0.083},{"g":"IGTup群","x":31,"y":0.081},{"g":"IGTup群","x":32,"y":0.080},{"g":"IGTup群","x":33,"y":0.079},{"g":"IGTup群","x":34,"y":0.078},{"g":"IGTup群","x":35,"y":0.077},{"g":"IGTup群","x":36,"y":0.075},{"g":"IGTup群","x":37,"y":0.074},
{"g":"IGTup群","x":0,"y":0.105},{"g":"IGTup群","x":1,"y":0.104},{"g":"IGTup群","x":2,"y":0.103},{"g":"IGTup群","x":3,"y":0.102},{"g":"IGTup群","x":4,"y":0.101},{"g":"IGTup群","x":5,"y":0.100},{"g":"IGTup群","x":6,"y":0.099},{"g":"IGTup群","x":7,"y":0.098},{"g":"IGTup群","x":8,"y":0.097},{"g":"IGTup群","x":9,"y":0.096},{"g":"IGTup群","x":10,"y":0.095},{"g":"IGTup群","x":11,"y":0.094},{"g":"IGTup群","x":12,"y":0.093},{"g":"IGTup群","x":13,"y":0.092},{"g":"IGTup群","x":14,"y":0.091},{"g":"IGTup群","x":15,"y":0.090},{"g":"IGTup群","x":16,"y":0.089},{"g":"IGTup群","x":17,"y":0.089},{"g":"IGTup群","x":18,"y":0.088},{"g":"IGTup群","x":19,"y":0.087},{"g":"IGTup群","x":20,"y":0.086},{"g":"IGTup群","x":21,"y":0.085},{"g":"IGTup群","x":22,"y":0.084},{"g":"IGTup群","x":23,"y":0.083},{"g":"IGTup群","x":24,"y":0.083},{"g":"IGTup群","x":25,"y":0.082},{"g":"IGTup群","x":26,"y":0.081},{"g":"IGTup群","x":27,"y":0.080},{"g":"IGTup群","x":28,"y":0.079},{"g":"IGTup群","x":29,"y":0.078},{"g":"IGTup群","x":30,"y":0.078},{"g":"IGTup群","x":31,"y":0.077},{"g":"IGTup群","x":32,"y":0.076},{"g":"IGTup群","x":33,"y":0.075},{"g":"IGTup群","x":34,"y":0.075},{"g":"IGTup群","x":35,"y":0.074},{"g":"IGTup群","x":36,"y":0.073},{"g":"IGTup群","x":37,"y":0.072},
{"g":"IGTup群","x":0,"y":0.080},{"g":"IGTup群","x":1,"y":0.080},{"g":"IGTup群","x":2,"y":0.079},{"g":"IGTup群","x":3,"y":0.079},{"g":"IGTup群","x":4,"y":0.078},{"g":"IGTup群","x":5,"y":0.078},{"g":"IGTup群","x":6,"y":0.078},{"g":"IGTup群","x":7,"y":0.077},{"g":"IGTup群","x":8,"y":0.077},{"g":"IGTup群","x":9,"y":0.076},{"g":"IGTup群","x":10,"y":0.076},{"g":"IGTup群","x":11,"y":0.076},{"g":"IGTup群","x":12,"y":0.075},{"g":"IGTup群","x":13,"y":0.075},{"g":"IGTup群","x":14,"y":0.075},{"g":"IGTup群","x":15,"y":0.074},{"g":"IGTup群","x":16,"y":0.074},{"g":"IGTup群","x":17,"y":0.073},{"g":"IGTup群","x":18,"y":0.073},{"g":"IGTup群","x":19,"y":0.073},{"g":"IGTup群","x":20,"y":0.072},{"g":"IGTup群","x":21,"y":0.072},{"g":"IGTup群","x":22,"y":0.072},{"g":"IGTup群","x":23,"y":0.071},{"g":"IGTup群","x":24,"y":0.071},{"g":"IGTup群","x":25,"y":0.071},{"g":"IGTup群","x":26,"y":0.070},{"g":"IGTup群","x":27,"y":0.070},{"g":"IGTup群","x":28,"y":0.069},{"g":"IGTup群","x":29,"y":0.069},{"g":"IGTup群","x":30,"y":0.069},{"g":"IGTup群","x":31,"y":0.068},{"g":"IGTup群","x":32,"y":0.068},{"g":"IGTup群","x":33,"y":0.068},{"g":"IGTup群","x":34,"y":0.067},{"g":"IGTup群","x":35,"y":0.067},{"g":"IGTup群","x":36,"y":0.067},{"g":"IGTup群","x":37,"y":0.066}
]
},
"data": {"name": "pts"},
"facet": {
  "column": {
    "field": "g", "type": "nominal", "sort": ["IGTdown群", "IGTup群"], "title": null,
    "header": {"labels": false}
  }
},
"spacing": 10,
"spec": {
  "width": 217,
  "height": 318,
  "layer": [
    {
      "mark": {"type": "circle", "size": 28, "color": "#52729a", "opacity": 0.95},
      "encoding": {
        "x": {"field": "x", "type": "quantitative",
          "scale": {"domain": [-1.5, 65.5], "nice": false, "zero": false},
          "axis": {"values": [0, 20, 40, 60], "format": "d", "title": null, "grid": false}},
        "y": {"field": "y", "type": "quantitative",
          "scale": {"domain": [-0.08, 3.08], "nice": false, "zero": false},
          "axis": {"values": [0, 1, 2, 3], "format": "d", "title": "暴力行為の回数の期待値", "grid": true, "labelAngle": -90}}
      }
    },
    {
      "transform": [{"aggregate": [{"op": "count", "as": "n"}], "groupby": ["g"]}],
      "mark": {"type": "rect", "color": "#e5ebef"},
      "encoding": {
        "x": {"datum": -1.5, "type": "quantitative"},
        "x2": {"datum": 65.5},
        "y": {"datum": 3.08, "type": "quantitative"},
        "y2": {"datum": 3.33}
      }
    },
    {
      "transform": [{"aggregate": [{"op": "count", "as": "n"}], "groupby": ["g"]}],
      "mark": {"type": "text", "fontSize": 15, "color": "#7d868d", "font": "Noto Sans CJK JP", "baseline": "middle", "align": "center"},
      "encoding": {
        "x": {"datum": 32, "type": "quantitative"},
        "y": {"datum": 3.205, "type": "quantitative"},
        "text": {"field": "g", "type": "nominal"}
      }
    }
  ]
},
"config": {
  "font": "Noto Sans CJK JP",
  "view": {"fill": "#ffffff", "stroke": null},
  "axis": {
    "domainColor": "#b9c0c6", "domainWidth": 2, "tickColor": "#b9c0c6", "tickSize": 4,
    "labelColor": "#8d959b", "labelFontSize": 10, "labelFont": "Noto Sans CJK JP",
    "titleColor": "#737c83", "titleFontWeight": "normal", "titleFont": "Noto Sans CJK JP",
    "gridColor": "#eef1f4"
  },
  "axisX": {"labelPadding": 3},
  "axisY": {"titleFontSize": 14, "titlePadding": 10, "labelPadding": 3}
}
}
